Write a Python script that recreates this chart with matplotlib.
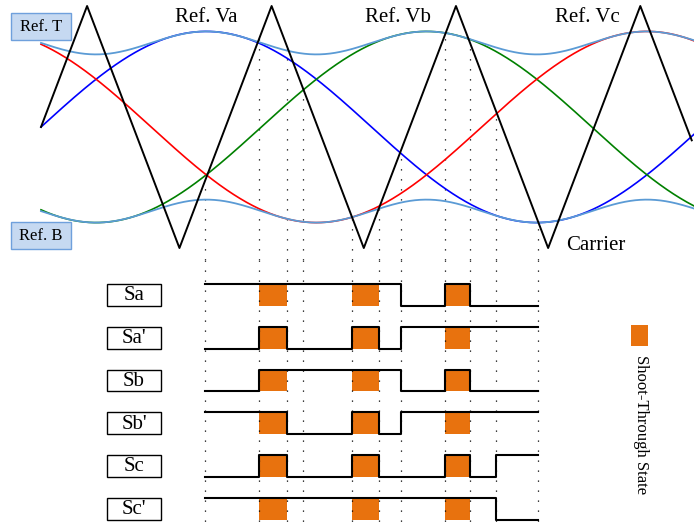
import numpy as np
import matplotlib.pyplot as plt
from matplotlib.patches import Rectangle

plt.rcParams['font.family'] = ['Liberation Serif', 'DejaVu Serif']

# --- data (angle in deg of the fundamental, voltage in p.u.) ---
ref_names = ['Va', 'Vb', 'Vc']
ref_phase = [0, -120, 120]
ref_colors = ['#0000FF', '#008000', '#FF0000']
ref_amp = 0.79

# shoot-through references (Ref. T / Ref. B): level +/- and 3rd harmonic ripple
st_level = 0.695
st_ripple = 0.095

carrier_t = [0, 25.1, 75.4, 125.6, 175.8, 226.0, 276.2, 326.4, 354.4]
carrier_v = [0, 1, -1, 1, -1, 1, -1, 1, -0.11]

# switching instants and gate states per interval
switch_t = [89.3, 118.7, 134.0, 142.7, 169.4, 184.1, 196.1, 220.0, 233.6, 247.8, 270.7]
gate_names = ['Sa', "Sa'", 'Sb', "Sb'", 'Sc', "Sc'"]
gate_states = [
    [1, 1, 1, 1, 1, 1, 0, 1, 0, 0],
    [0, 1, 0, 0, 1, 0, 1, 1, 1, 1],
    [0, 1, 1, 1, 1, 1, 0, 1, 0, 0],
    [1, 1, 0, 0, 1, 0, 1, 1, 1, 1],
    [0, 1, 0, 0, 1, 0, 0, 1, 0, 1],
    [1, 1, 1, 1, 1, 1, 1, 1, 1, 0],
]
shoot_through_idx = [1, 4, 7]

orange = '#E8720E'
light_blue = '#5B9BD5'

fig = plt.figure(figsize=(6.94, 5.22), dpi=100)
ax_top = fig.add_axes([0, 1 - 260 / 522, 1, 260 / 522])
ax_bot = fig.add_axes([0, 0, 1, 262 / 522])
xlim = (-22.33, 355.64)
for ax in (ax_top, ax_bot):
    ax.set_xlim(*xlim)
    ax.axis('off')
ax_top.set_ylim(-1.099, 1.0496)
ax_bot.set_ylim(5.31, -0.819)

# top: references and carrier
theta = np.linspace(0, 355.6, 900)
for name, ph, col in zip(ref_names, ref_phase, ref_colors):
    ax_top.plot(theta, ref_amp * np.sin(np.radians(theta + ph)), color=col, lw=1.2, zorder=2)
ripple = st_ripple * np.cos(np.radians(3 * (theta - 90)))
ax_top.plot(theta, st_level + ripple, color=light_blue, lw=1.3, zorder=3)
ax_top.plot(theta, -st_level + ripple, color=light_blue, lw=1.3, zorder=3)
ax_top.plot(carrier_t, carrier_v, color='black', lw=1.4, zorder=4)

# dotted lines from carrier intersections down
start_v = np.interp(switch_t, carrier_t, carrier_v)
ax_top.vlines(switch_t, -1.099, start_v, colors='black', lw=0.9,
              linestyles=[(0, (1, 7))], zorder=1)
ax_bot.vlines(switch_t, -0.819, 5.31, colors='black', lw=0.9,
              linestyles=[(0, (1, 7))], zorder=2)

for label, x in zip(['Ref. Va', 'Ref. Vb', 'Ref. Vc'], [89.9, 194.4, 297.4]):
    ax_top.text(x, 0.909, label, ha='center', va='center', fontsize=15)
ax_top.text(302.3, -0.983, 'Carrier', ha='center', va='center', fontsize=15)

for y0, label, ty in [(0.719, 'Ref. T', 0.83), (-1.008, 'Ref. B', -0.90)]:
    ax_top.add_patch(Rectangle((-16.4, y0), 32.7, 0.22, fc='#C6D9F1', ec='#6FA0DC',
                               lw=1, zorder=6))
    ax_top.text(-0.05, ty, label, ha='center', va='center', fontsize=12, zorder=7)

# bottom: gate signals
half = 0.257
for k, (name, states) in enumerate(zip(gate_names, gate_states)):
    levels = [k - half if s else k + half for s in states]
    ax_bot.plot(switch_t, levels + [levels[-1]], drawstyle='steps-post',
                color='black', lw=1.5, zorder=4)
    for i in shoot_through_idx:
        ax_bot.add_patch(Rectangle((switch_t[i], k - half), switch_t[i + 1] - switch_t[i],
                                   2 * half, fc=orange, ec='none', zorder=1))
    ax_bot.add_patch(Rectangle((35.9, k - half), 29.5, 2 * half, fc='white',
                               ec='black', lw=1, zorder=3))
    ax_bot.text(50.65, k + 0.02, name, ha='center', va='center', fontsize=15, zorder=5)

# legend
ax_bot.add_patch(Rectangle((321.3, 0.702), 9.3, 0.49, fc=orange, ec='none'))
ax_bot.text(327.0, 1.40, 'Shoot-Through State', rotation=-90, ha='center', va='top',
            fontsize=12)

fig.savefig('out.png', dpi=100)
